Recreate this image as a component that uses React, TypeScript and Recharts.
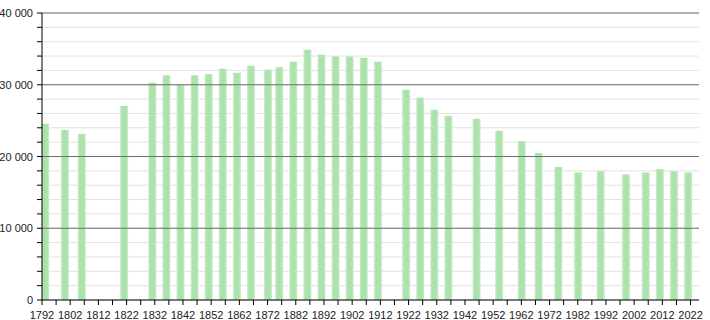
import { BarChart, Bar, XAxis, YAxis, CartesianGrid, ReferenceLine } from "recharts";

// census years and population
const years = [
  1793, 1800, 1806, 1821, 1831, 1836, 1841, 1846, 1851, 1856, 1861, 1866,
  1872, 1876, 1881, 1886, 1891, 1896, 1901, 1906, 1911, 1921, 1926, 1931,
  1936, 1946, 1954, 1962, 1968, 1975, 1982, 1990, 1999, 2006, 2011, 2016, 2021,
];
const population = [
  24550, 23700, 23150, 27050, 30270, 31340, 29950, 31340, 31480, 32220, 31670, 32640,
  32080, 32450, 33200, 34870, 34180, 33940, 33940, 33760, 33200, 29300, 28180, 26500,
  25670, 25250, 23580, 22130, 20500, 18550, 17760, 17950, 17480, 17760, 18270, 17950, 17760,
];

const xTicks = [
  1792, 1797, 1802, 1807, 1812, 1817, 1822, 1827, 1832, 1837, 1842, 1847, 1852,
  1857, 1862, 1867, 1872, 1877, 1882, 1887, 1892, 1897, 1902, 1907, 1912, 1917,
  1922, 1927, 1932, 1937, 1942, 1947, 1952, 1957, 1962, 1967, 1972, 1977, 1982,
  1987, 1992, 1997, 2002, 2007, 2012, 2017, 2022,
];
const yTicks = [
  0, 2000, 4000, 6000, 8000, 10000, 12000, 14000, 16000, 18000, 20000,
  22000, 24000, 26000, 28000, 30000, 32000, 34000, 36000, 38000, 40000,
];
const majorY = [10000, 20000, 30000, 40000];

const data = years.map((y, i) => ({ year: y, pop: population[i] }));

const FONT = "'Liberation Sans', Arial, sans-serif";

function XTick(props: any) {
  const { x, y, payload } = props;
  if ((payload.value - 1792) % 10 !== 0) return <g />;
  return (
    <text x={x} y={y + 12} textAnchor="middle" fontSize={11} fill="#222" fontFamily={FONT}>
      {payload.value}
    </text>
  );
}

function YTick(props: any) {
  const { x, y, payload } = props;
  if (payload.value % 10000 !== 0) return <g />;
  const label = String(payload.value).replace(/\B(?=(\d{3})+(?!\d))/g, " ");
  return (
    <text x={x - 2} y={y + 4} textAnchor="end" fontSize={11} fill="#222" fontFamily={FONT}>
      {label}
    </text>
  );
}

export default function App() {
  return (
    <div style={{ position: "absolute", left: 0, top: 0, background: "#fff" }}>
      <BarChart width={710} height={320} data={data}
                margin={{ top: 13, right: 11, left: 0, bottom: 0 }}>
        <defs>
          <linearGradient id="barFill" x1="0" y1="0" x2="1" y2="0">
            <stop offset="0%" stopColor="#cdeecd" />
            <stop offset="25%" stopColor="#ace2ac" />
            <stop offset="75%" stopColor="#ace2ac" />
            <stop offset="100%" stopColor="#cdeecd" />
          </linearGradient>
        </defs>
        <CartesianGrid vertical={false} stroke="#e2e2e2" />
        {majorY.map(v => (
          <ReferenceLine key={v} y={v} stroke="#6e6e6e" strokeWidth={1} />
        ))}
        <XAxis
          dataKey="year"
          type="number"
          domain={[1792, 2025]}
          ticks={xTicks}
          interval={0}
          tick={<XTick />}
          tickSize={5}
          height={20}
          axisLine={{ stroke: "#000" }}
          tickLine={{ stroke: "#000" }}
          allowDataOverflow
        />
        <YAxis
          type="number"
          domain={[0, 40000]}
          ticks={yTicks}
          interval={0}
          tick={<YTick />}
          tickSize={5}
          width={42}
          axisLine={{ stroke: "#000" }}
          tickLine={{ stroke: "#000" }}
        />
        <Bar dataKey="pop" fill="url(#barFill)" barSize={8} isAnimationActive={false} />
      </BarChart>
    </div>
  );
}
